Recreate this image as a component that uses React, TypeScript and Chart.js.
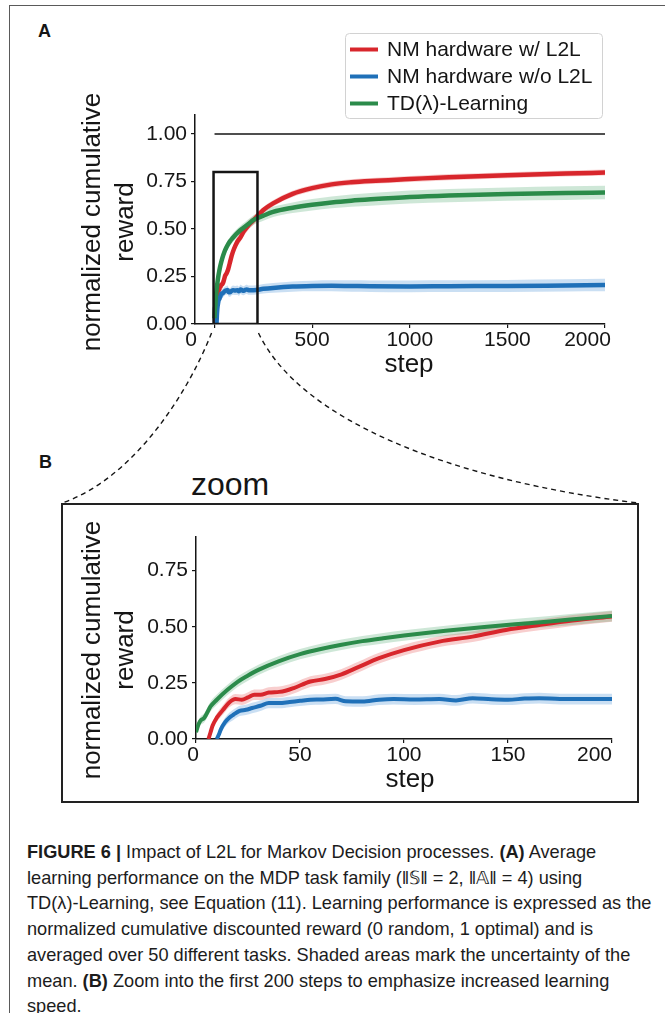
import React, { useEffect, useRef } from 'react';
import { Chart, registerables } from 'chart.js';

Chart.register(...registerables);

// ---------------- data ----------------
// Panel B: first 200 steps
const redStepsB = [6, 7, 8, 10, 13, 16, 19, 22, 25, 28, 31, 35, 40, 43, 47, 55, 62, 70, 78, 88, 100, 117, 133, 149, 165, 181, 200];
const redB = [0, 0.03, 0.06, 0.095, 0.13, 0.163, 0.178, 0.175, 0.185, 0.197, 0.197, 0.207, 0.21, 0.215, 0.227, 0.256, 0.267, 0.288, 0.32, 0.36, 0.396, 0.434, 0.456, 0.486, 0.508, 0.528, 0.546];
const redErrB = [0.01, 0.013, 0.016, 0.019, 0.021, 0.022, 0.023, 0.023, 0.023, 0.023, 0.024, 0.024, 0.024, 0.024, 0.024, 0.024, 0.024, 0.024, 0.024, 0.024, 0.024, 0.024, 0.024, 0.024, 0.024, 0.024, 0.024];

const blueStepsB = [10, 11, 12, 14, 16, 18, 21, 24, 27, 31, 35, 40, 45, 50, 55, 60, 67, 72, 80, 88, 95, 105, 117, 125, 133, 142, 150, 158, 165, 175, 185, 200];
const blueB = [0, 0.02, 0.044, 0.075, 0.095, 0.108, 0.125, 0.13, 0.138, 0.148, 0.16, 0.16, 0.165, 0.17, 0.175, 0.176, 0.179, 0.168, 0.167, 0.175, 0.178, 0.176, 0.178, 0.172, 0.182, 0.177, 0.175, 0.18, 0.182, 0.178, 0.178, 0.178];
const blueErrB = [0.012, 0.015, 0.018, 0.02, 0.022, 0.023, 0.023, 0.023, 0.023, 0.023, 0.023, 0.023, 0.023, 0.023, 0.023, 0.023, 0.023, 0.023, 0.023, 0.024, 0.024, 0.024, 0.024, 0.024, 0.024, 0.024, 0.024, 0.024, 0.024, 0.024, 0.024, 0.024];

const greenStepsB = [0, 1, 2, 4, 7, 10, 15, 20, 25, 30, 40, 50, 60, 70, 80, 90, 100, 120, 140, 160, 180, 200];
const greenB = [0.03, 0.06, 0.08, 0.095, 0.145, 0.175, 0.218, 0.255, 0.283, 0.308, 0.347, 0.378, 0.401, 0.42, 0.436, 0.449, 0.461, 0.482, 0.5, 0.516, 0.532, 0.548];
const greenErrB = [0.012, 0.015, 0.018, 0.02, 0.022, 0.023, 0.023, 0.023, 0.023, 0.023, 0.023, 0.023, 0.023, 0.023, 0.023, 0.023, 0.023, 0.023, 0.024, 0.024, 0.025, 0.025];

// Panel A: continuation after step 200
const lateStepsA = [250, 300, 400, 500, 600, 700, 800, 1000, 1200, 1500, 1800, 2000];
const redLateA = [0.6, 0.635, 0.685, 0.715, 0.735, 0.746, 0.753, 0.763, 0.773, 0.783, 0.792, 0.797];
const redErrLateA = [0.016, 0.016, 0.016, 0.016, 0.016, 0.016, 0.016, 0.016, 0.016, 0.016, 0.016, 0.016];
const blueLateA = [0.185, 0.19, 0.197, 0.2, 0.201, 0.2, 0.199, 0.198, 0.199, 0.2, 0.203, 0.205];
const blueErrLateA = [0.025, 0.026, 0.027, 0.028, 0.029, 0.03, 0.03, 0.031, 0.031, 0.032, 0.032, 0.033];
const greenLateA = [0.57, 0.59, 0.612, 0.628, 0.64, 0.649, 0.656, 0.668, 0.676, 0.684, 0.689, 0.692];
const greenErrLateA = [0.026, 0.027, 0.028, 0.03, 0.031, 0.032, 0.033, 0.034, 0.035, 0.035, 0.036, 0.036];

const seriesLabels = ['NM hardware w/ L2L', 'NM hardware w/o L2L', 'TD(\u03bb)-Learning'];

const xTicksA = [0, 500, 1000, 1500, 2000];
const yTicksA = [0, 0.25, 0.5, 0.75, 1.0];
const xTicksB = [0, 50, 100, 150, 200];
const yTicksB = [0, 0.25, 0.5, 0.75];

const optimalX = [0, 2000];
const optimalY = [1, 1];
const zoomBoxX = [-5, 220];
const zoomBoxY = [0, 0.8];

// ---------------- styles ----------------
const FONT = "'Liberation Sans', Arial, Helvetica, sans-serif";
const RED = '#d8262c';
const BLUE = '#1f70b8';
const GREEN = '#2b8b4a';
const RED_BAND = 'rgba(230, 80, 80, 0.28)';
const BLUE_BAND = 'rgba(80, 150, 215, 0.30)';
const GREEN_BAND = 'rgba(80, 170, 110, 0.28)';
const INK = '#151515';

function toPoints(xs: number[], ys: number[], es?: number[], sign = 0) {
  return xs.map((x, i) => ({ x, y: ys[i] + sign * (es ? es[i] : 0) }));
}

function seriesDatasets(xs: number[], ys: number[], es: number[], color: string, band: string, label: string, lineOrder: number, bandOrder: number, lw: number) {
  return [
    { label: label + ' upper', data: toPoints(xs, ys, es, 1), borderWidth: 0, borderColor: 'transparent', pointRadius: 0, fill: '+1', backgroundColor: band, order: bandOrder, cubicInterpolationMode: 'monotone' },
    { label: label + ' lower', data: toPoints(xs, ys, es, -1), borderWidth: 0, borderColor: 'transparent', pointRadius: 0, fill: false, order: bandOrder, cubicInterpolationMode: 'monotone' },
    { label, data: toPoints(xs, ys), borderColor: color, borderWidth: lw, pointRadius: 0, fill: false, order: lineOrder, cubicInterpolationMode: 'monotone', borderJoinStyle: 'round' },
  ];
}

function titlesPlugin(cfg: { xText: string; xCenter: number; xBaseline: number; yLines: string[]; yBaselines: number[]; yCenter: number }) {
  return {
    id: 'axisTitlesCustom',
    afterDraw(chart: any) {
      const ctx = chart.ctx as CanvasRenderingContext2D;
      ctx.save();
      ctx.fillStyle = INK;
      ctx.font = `26px ${FONT}`;
      ctx.textAlign = 'center';
      ctx.textBaseline = 'alphabetic';
      ctx.fillText(cfg.xText, cfg.xCenter, cfg.xBaseline);
      cfg.yLines.forEach((line, i) => {
        ctx.save();
        ctx.translate(cfg.yBaselines[i], cfg.yCenter);
        ctx.rotate(-Math.PI / 2);
        ctx.fillText(line, 0, 0);
        ctx.restore();
      });
      ctx.restore();
    },
  };
}

const legendPlugin = {
  id: 'legendCustom',
  afterDraw(chart: any) {
    const ctx = chart.ctx as CanvasRenderingContext2D;
    const colors = [RED, BLUE, GREEN];
    const x = 345.5, y = 33.5, w = 257, h = 85, r = 4;
    ctx.save();
    ctx.beginPath();
    ctx.moveTo(x + r, y);
    ctx.arcTo(x + w, y, x + w, y + h, r);
    ctx.arcTo(x + w, y + h, x, y + h, r);
    ctx.arcTo(x, y + h, x, y, r);
    ctx.arcTo(x, y, x + w, y, r);
    ctx.closePath();
    ctx.fillStyle = 'rgba(255,255,255,0.85)';
    ctx.fill();
    ctx.strokeStyle = '#d2d2d2';
    ctx.lineWidth = 1;
    ctx.stroke();
    ctx.font = `21px ${FONT}`;
    ctx.textBaseline = 'middle';
    ctx.textAlign = 'left';
    seriesLabels.forEach((label, i) => {
      const cy = 49.5 + i * 27;
      ctx.beginPath();
      ctx.strokeStyle = colors[i];
      ctx.lineWidth = 4;
      ctx.moveTo(350, cy);
      ctx.lineTo(378, cy);
      ctx.stroke();
      ctx.fillStyle = INK;
      ctx.fillText(label, 387, cy + 1);
    });
    ctx.restore();
  },
};

const connectorPlugin = {
  id: 'zoomConnectors',
  afterDraw(chart: any) {
    const ctx = chart.ctx as CanvasRenderingContext2D;
    const xs = chart.scales.x;
    const ys = chart.scales.y;
    const x0 = xs.getPixelForValue(zoomBoxX[0]);
    const x1 = xs.getPixelForValue(zoomBoxX[1]);
    const yb = ys.getPixelForValue(zoomBoxY[0]) + 9;
    ctx.save();
    ctx.setLineDash([5, 4]);
    ctx.lineWidth = 1.4;
    ctx.strokeStyle = INK;
    ctx.beginPath();
    ctx.moveTo(x0 - 2, yb);
    ctx.bezierCurveTo(185, 400, 130, 480, 62, 503);
    ctx.stroke();
    ctx.beginPath();
    ctx.moveTo(x1 + 1, yb);
    ctx.bezierCurveTo(300, 420, 450, 480, 638, 503);
    ctx.stroke();
    ctx.restore();
  },
};

function axisCommon() {
  return {
    grid: { display: true, drawOnChartArea: false, drawTicks: true, tickLength: 4, color: INK, lineWidth: 1.2 },
    border: { display: true, color: INK, width: 1.5 },
  };
}

function configA(): any {
  const datasets: any[] = [
    ...seriesDatasets([...redStepsB, ...lateStepsA], [...redB, ...redLateA], [...redErrB, ...redErrLateA], RED, RED_BAND, seriesLabels[0], 3, 30, 4.5),
    ...seriesDatasets([...blueStepsB, ...lateStepsA], [...blueB, ...blueLateA], [...blueErrB, ...blueErrLateA], BLUE, BLUE_BAND, seriesLabels[1], 2, 20, 4.5),
    ...seriesDatasets([...greenStepsB, ...lateStepsA], [...greenB, ...greenLateA], [...greenErrB, ...greenErrLateA], GREEN, GREEN_BAND, seriesLabels[2], 1, 10, 4.5),
    { label: 'optimal', data: toPoints(optimalX, optimalY), borderColor: INK, borderWidth: 1.3, pointRadius: 0, fill: false, order: 0, tension: 0 },
    {
      label: 'zoom region',
      data: [
        { x: zoomBoxX[0], y: zoomBoxY[0] },
        { x: zoomBoxX[0], y: zoomBoxY[1] },
        { x: zoomBoxX[1], y: zoomBoxY[1] },
        { x: zoomBoxX[1], y: zoomBoxY[0] },
        { x: zoomBoxX[0], y: zoomBoxY[0] },
      ],
      borderColor: INK, borderWidth: 2.5, pointRadius: 0, fill: false, order: 0, tension: 0, borderJoinStyle: 'miter',
    },
  ];
  const c = axisCommon();
  return {
    type: 'line',
    data: { datasets },
    options: {
      responsive: false,
      animation: false,
      devicePixelRatio: 1,
      events: [],
      layout: { padding: { left: 0, top: 115, right: 60, bottom: 152 } },
      plugins: { legend: { display: false }, tooltip: { enabled: false } },
      scales: {
        x: {
          type: 'linear', min: -100, max: 2000,
          afterBuildTicks: (s: any) => { s.ticks = xTicksA.map((v) => ({ value: v })); },
          afterFit: (s: any) => { s.height = 30; s.paddingLeft = 0; s.paddingRight = 0; },
          ticks: {
            autoSkip: false, maxRotation: 0, padding: 0, color: INK,
            font: { family: FONT, size: 21 },
            callback: (v: number) => (v === 0 ? '0' + ' '.repeat(8) : v === 2000 ? '2000' + ' '.repeat(6) : String(v)),
          },
          ...c,
        },
        y: {
          type: 'linear', min: 0, max: 1.1,
          afterBuildTicks: (s: any) => { s.ticks = yTicksA.map((v) => ({ value: v })); },
          afterFit: (s: any) => { s.width = 195; s.paddingTop = 0; s.paddingBottom = 0; },
          ticks: { padding: 4, color: INK, font: { family: FONT, size: 21 }, callback: (v: number) => v.toFixed(2) },
          ...c,
        },
      },
    },
    plugins: [
      titlesPlugin({ xText: 'step', xCenter: 409, xBaseline: 372, yLines: ['normalized cumulative', 'reward'], yBaselines: [100, 133], yCenter: 222 }),
      legendPlugin,
      connectorPlugin,
    ],
  };
}

function configB(): any {
  const datasets: any[] = [
    ...seriesDatasets(redStepsB, redB, redErrB, RED, RED_BAND, seriesLabels[0], 3, 30, 4),
    ...seriesDatasets(blueStepsB, blueB, blueErrB, BLUE, BLUE_BAND, seriesLabels[1], 2, 20, 4),
    ...seriesDatasets(greenStepsB, greenB, greenErrB, GREEN, GREEN_BAND, seriesLabels[2], 1, 10, 4),
  ];
  const c = axisCommon();
  return {
    type: 'line',
    data: { datasets },
    options: {
      responsive: false,
      animation: false,
      devicePixelRatio: 1,
      events: [],
      layout: { padding: { left: 0, top: 37, right: 53, bottom: 36 } },
      plugins: { legend: { display: false }, tooltip: { enabled: false } },
      scales: {
        x: {
          type: 'linear', min: 0, max: 200,
          afterBuildTicks: (s: any) => { s.ticks = xTicksB.map((v) => ({ value: v })); },
          afterFit: (s: any) => { s.height = 30; s.paddingLeft = 0; s.paddingRight = 0; },
          ticks: {
            autoSkip: false, maxRotation: 0, padding: 0, color: INK,
            font: { family: FONT, size: 21 },
            callback: (v: number) => (v === 0 ? '0 ' : v === 200 ? '200' + ' '.repeat(6) : String(v)),
          },
          ...c,
        },
        y: {
          type: 'linear', min: 0, max: 0.9,
          afterBuildTicks: (s: any) => { s.ticks = yTicksB.map((v) => ({ value: v })); },
          afterFit: (s: any) => { s.width = 196; s.paddingTop = 0; s.paddingBottom = 0; },
          ticks: { padding: 4, color: INK, font: { family: FONT, size: 21 }, callback: (v: number) => v.toFixed(2) },
          ...c,
        },
      },
    },
    plugins: [
      titlesPlugin({ xText: 'step', xCenter: 410, xBaseline: 287, yLines: ['normalized cumulative', 'reward'], yBaselines: [100, 133], yCenter: 150 }),
    ],
  };
}

export default function App() {
  const refA = useRef<HTMLCanvasElement>(null);
  const refB = useRef<HTMLCanvasElement>(null);

  useEffect(() => {
    const a = new Chart(refA.current as HTMLCanvasElement, configA());
    const b = new Chart(refB.current as HTMLCanvasElement, configB());
    return () => {
      a.destroy();
      b.destroy();
    };
  }, []);

  const abs: React.CSSProperties = { position: 'absolute' };
  return (
    <div style={{ position: 'absolute', left: 0, top: 0, width: 665, height: 1013, overflow: 'hidden', background: '#fff', fontFamily: FONT, color: INK }}>
      <div style={{ ...abs, left: 9, top: 5, width: 700, height: 1100, borderLeft: '1.5px solid #5a5a5a', borderTop: '1.5px solid #5a5a5a' }} />
      <div style={{ ...abs, left: 61, top: 503, width: 578, height: 300, border: '2.5px solid #222', boxSizing: 'border-box' }} />
      <div style={{ ...abs, left: 38, top: 22, fontSize: 18, lineHeight: '18px', fontWeight: 'bold' }}>A</div>
      <div style={{ ...abs, left: 39, top: 453, fontSize: 18, lineHeight: '18px', fontWeight: 'bold' }}>B</div>
      <div style={{ ...abs, left: 191, top: 468, fontSize: 32, lineHeight: '32px' }}>zoom</div>
      <canvas ref={refA} width={665} height={506} style={{ ...abs, left: 0, top: 0, width: 665, height: 506 }} />
      <canvas ref={refB} width={665} height={305} style={{ ...abs, left: 0, top: 500, width: 665, height: 305 }} />
      <div style={{ ...abs, left: 27, top: 840, fontSize: 18.2, lineHeight: '25.7px', whiteSpace: 'nowrap', color: '#1c1c1c' }}>
        <b>FIGURE 6 |</b> Impact of L2L for Markov Decision processes. <b>(A)</b> Average<br />
        learning performance on the MDP task family ({'\u2016\u{1D54A}\u2016 = 2, \u2016\u{1D538}\u2016 = 4'}) using<br />
        TD({'\u03bb'})-Learning, see Equation (11). Learning performance is expressed as the<br />
        normalized cumulative discounted reward (0 random, 1 optimal) and is<br />
        averaged over 50 different tasks. Shaded areas mark the uncertainty of the<br />
        mean. <b>(B)</b> Zoom into the first 200 steps to emphasize increased learning<br />
        speed.
      </div>
    </div>
  );
}
